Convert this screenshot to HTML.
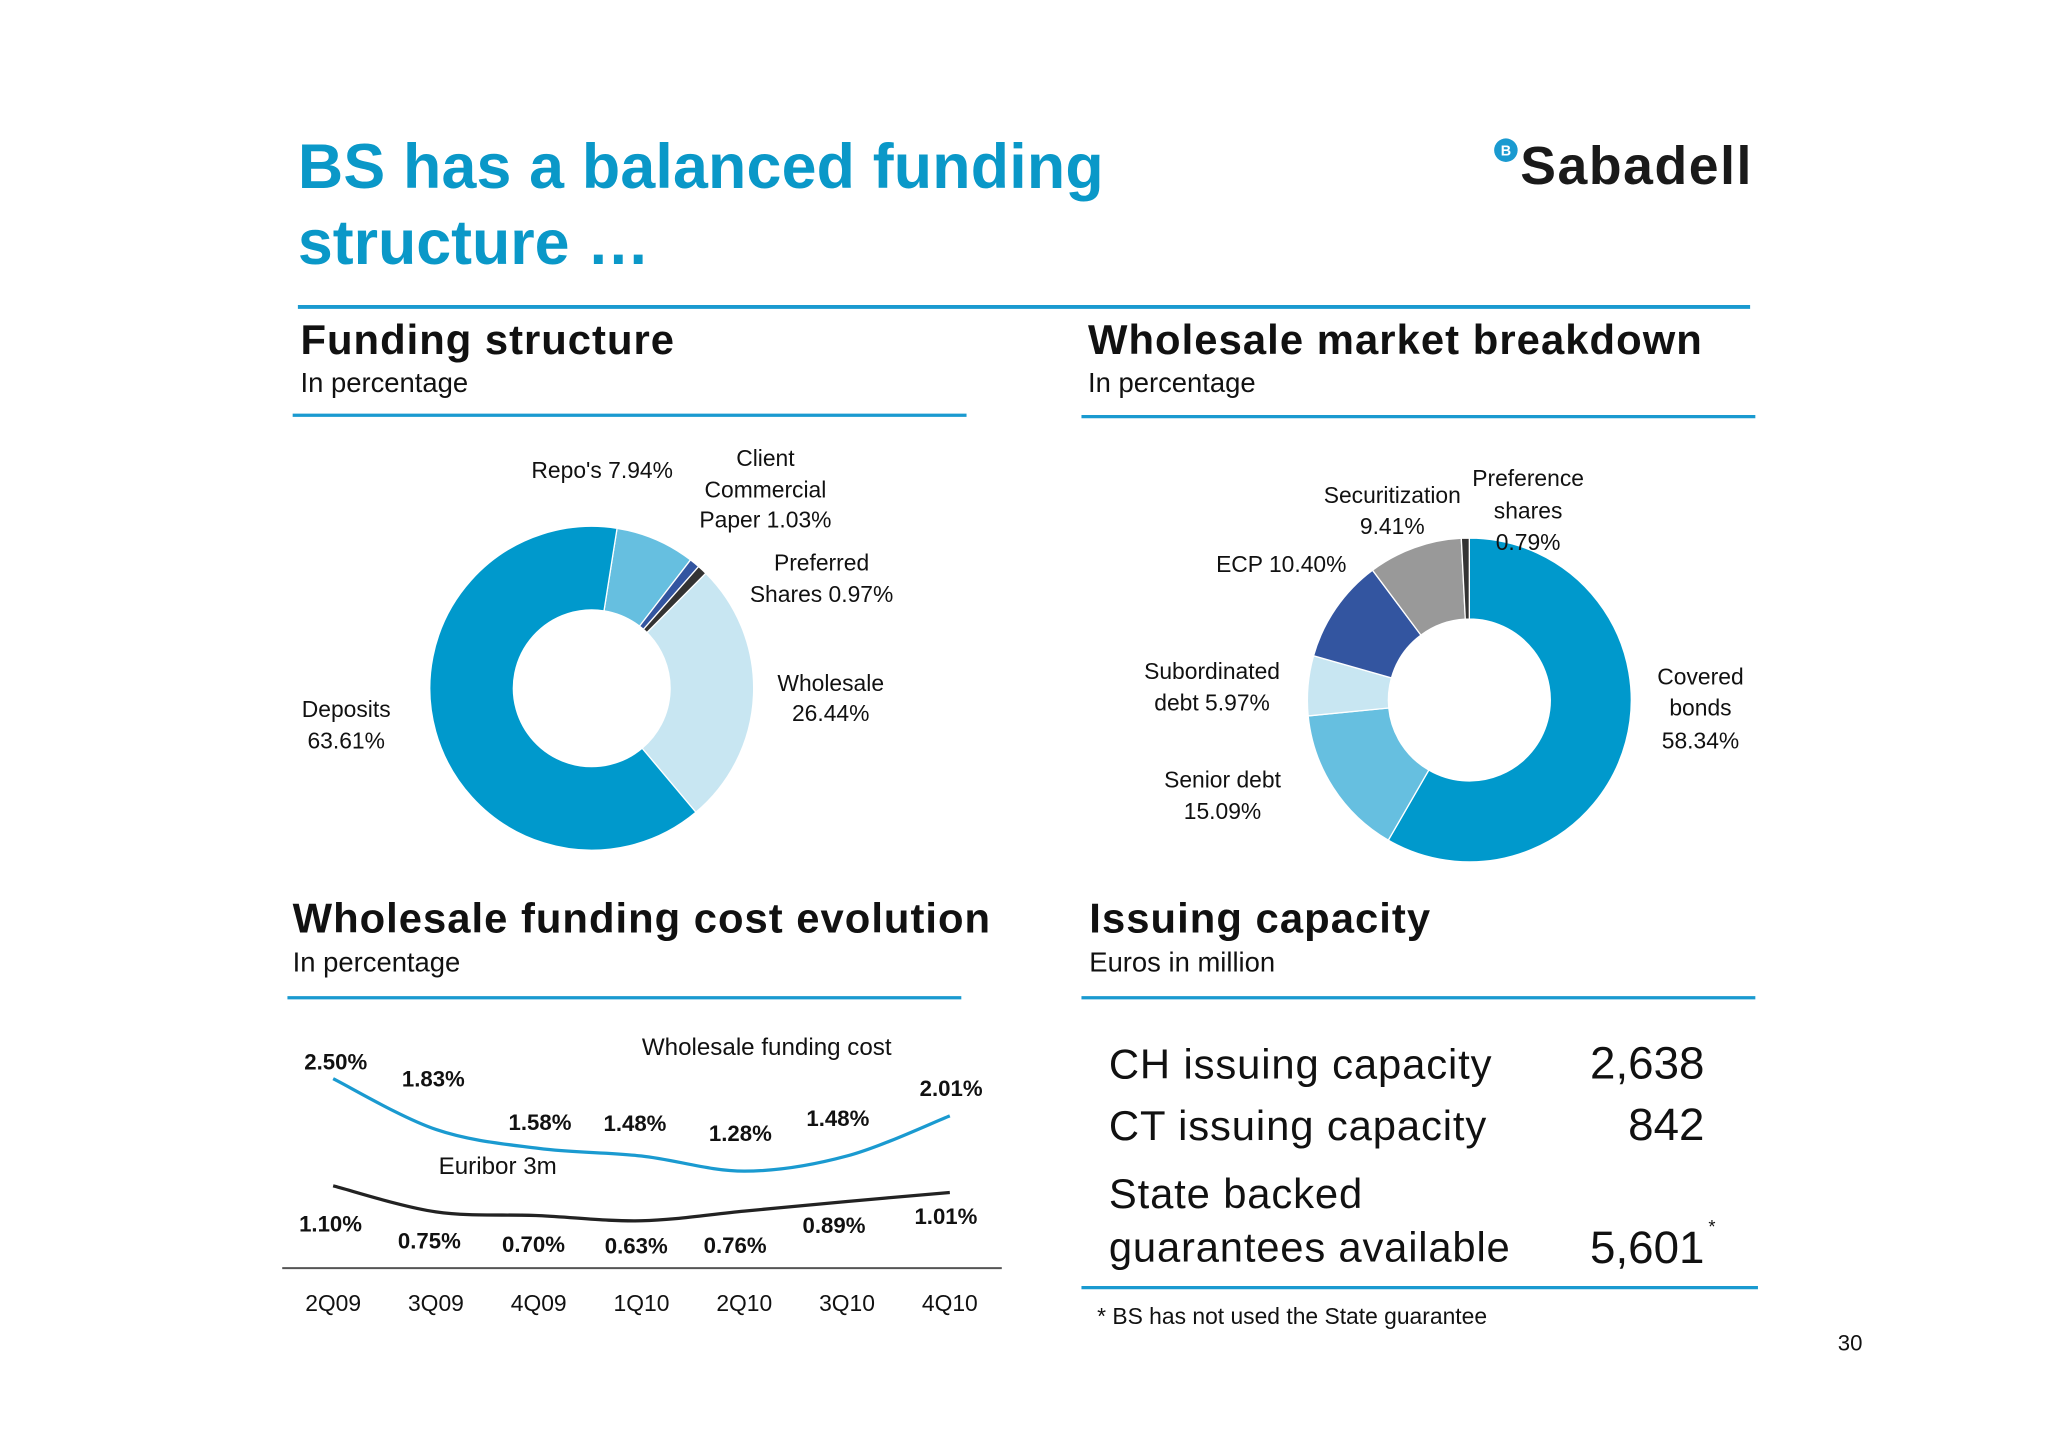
<!DOCTYPE html>
<html><head><meta charset="utf-8"><style>
html,body{margin:0;padding:0;background:#fff;}
svg{display:block;font-family:"Liberation Sans",Arial,sans-serif;}
</style></head><body>
<svg id="s" width="2048" height="1447" viewBox="0 0 1568 1108" xmlns="http://www.w3.org/2000/svg">
<rect width="1568" height="1108" fill="#fff"/>
<text x="228" y="144" font-size="48" font-weight="bold" fill="#0a98c8" textLength="617">BS has a balanced funding</text>
<text x="228" y="202" font-size="48" font-weight="bold" fill="#0a98c8">structure …</text>
<g>
<circle cx="1153" cy="115" r="9" fill="#1a9ad0"/>
<text x="1153" y="119" font-size="11" font-weight="bold" fill="#fff" text-anchor="middle">B</text>
<text x="1164" y="141" font-size="41" font-weight="bold" fill="#1a1a1a" textLength="177">Sabadell</text>
</g>
<line x1="228" y1="235" x2="1340" y2="235" stroke="#1a9ad0" stroke-width="3"/>
<text x="230" y="271" font-size="32" font-weight="bold" fill="#111" textLength="286">Funding structure</text>
<text x="230" y="300" font-size="21" fill="#111">In percentage</text>
<line x1="224" y1="318" x2="740" y2="318" stroke="#1a9ad0" stroke-width="2.5"/>
<text x="833" y="271" font-size="32" font-weight="bold" fill="#111" textLength="470">Wholesale market breakdown</text>
<text x="833" y="300" font-size="21" fill="#111">In percentage</text>
<line x1="828" y1="319" x2="1344" y2="319" stroke="#1a9ad0" stroke-width="2.5"/>
<text x="224" y="714" font-size="32" font-weight="bold" fill="#111" textLength="534">Wholesale funding cost evolution</text>
<text x="224" y="744" font-size="21" fill="#111">In percentage</text>
<line x1="220" y1="764" x2="736" y2="764" stroke="#1a9ad0" stroke-width="2.5"/>
<text x="834" y="714" font-size="32" font-weight="bold" fill="#111" textLength="261">Issuing capacity</text>
<text x="834" y="744" font-size="21" fill="#111">Euros in million</text>
<line x1="828" y1="764" x2="1344" y2="764" stroke="#1a9ad0" stroke-width="2.5"/>
<g id="d1"></g>
<g id="d2"></g>
<g font-size="17.5" fill="#111" text-anchor="middle">
<text x="461" y="366">Repo's 7.94%</text>
<text x="586" y="357">Client</text><text x="586" y="381">Commercial</text><text x="586" y="404">Paper 1.03%</text>
<text x="629" y="437">Preferred</text><text x="629" y="461">Shares 0.97%</text>
<text x="636" y="529">Wholesale</text><text x="636" y="552">26.44%</text>
<text x="265" y="549">Deposits</text><text x="265" y="573">63.61%</text>
<text x="1066" y="385">Securitization</text><text x="1066" y="409">9.41%</text>
<text x="1170" y="372">Preference</text><text x="1170" y="397">shares</text><text x="1170" y="421">0.79%</text>
<text x="981" y="438">ECP 10.40%</text>
<text x="928" y="520">Subordinated</text><text x="928" y="544">debt 5.97%</text>
<text x="936" y="603">Senior debt</text><text x="936" y="627">15.09%</text>
<text x="1302" y="524">Covered</text><text x="1302" y="548">bonds</text><text x="1302" y="573">58.34%</text>
</g>
<g id="lc"></g>
<text x="587" y="808" font-size="18.5" fill="#111" text-anchor="middle">Wholesale funding cost</text>
<text x="381" y="899" font-size="18.5" fill="#111" text-anchor="middle">Euribor 3m</text>
<line x1="216" y1="971" x2="767" y2="971" stroke="#555" stroke-width="1.5"/>
<g font-size="32" fill="#111">
<text x="849" y="826" textLength="293">CH issuing capacity</text><text x="1305" y="826" text-anchor="end" font-size="35">2,638</text>
<text x="849" y="873" textLength="289">CT issuing capacity</text><text x="1305" y="873" text-anchor="end" font-size="35">842</text>
<text x="849" y="925" textLength="194">State backed</text>
<text x="849" y="966" textLength="307">guarantees available</text><text x="1305" y="967" text-anchor="end" font-size="35">5,601</text>
<text x="1308" y="944" font-size="14">*</text>
</g>
<line x1="828" y1="986" x2="1346" y2="986" stroke="#1a9ad0" stroke-width="2.5"/>
<text x="840" y="1014" font-size="17.5" fill="#111">* BS has not used the State guarantee</text>
<text x="1426" y="1034" font-size="17" fill="#111" text-anchor="end">30</text>
</svg>
<script>
const NS="http://www.w3.org/2000/svg";
const fundLabels=["Repo's","Client CP","Preferred","Wholesale","Deposits"];
const fundValues=[7.94,1.03,0.97,26.44,63.61];
const fundColors=["#66bfe0","#3355a0","#333333","#c8e6f2","#0099cc"];
const wmLabels=["Covered bonds","Senior debt","Subordinated","ECP","Securitization","Preference"];
const wmValues=[58.34,15.09,5.97,10.40,9.41,0.79];
const wmColors=["#0099cc","#66bfe0","#c8e6f2","#3355a0","#999999","#333333"];
const quarters=["2Q09","3Q09","4Q09","1Q10","2Q10","3Q10","4Q10"];
const wholesaleCost=[2.50,1.83,1.58,1.48,1.28,1.48,2.01];
const euribor=[1.10,0.75,0.70,0.63,0.76,0.89,1.01];
function donut(g,vals,cols,names,cx,cy,R,r,start){
  const tot=vals.reduce((a,b)=>a+b,0);let a=start;
  vals.forEach((v,i)=>{
    const a2=a+v/tot*360;
    const p=(ang,rad)=>[cx+rad*Math.sin(ang*Math.PI/180),cy-rad*Math.cos(ang*Math.PI/180)];
    const l=(a2-a)>180?1:0;
    const [x1,y1]=p(a,R),[x2,y2]=p(a2,R),[x3,y3]=p(a2,r),[x4,y4]=p(a,r);
    const el=document.createElementNS(NS,"path");
    el.setAttribute("d",`M${x1},${y1}A${R},${R} 0 ${l} 1 ${x2},${y2}L${x3},${y3}A${r},${r} 0 ${l} 0 ${x4},${y4}Z`);
    el.setAttribute("fill",cols[i]);el.setAttribute("stroke","#fff");el.setAttribute("stroke-width","1");
    
    
    g.appendChild(el);a=a2;
  });
}
donut(document.getElementById("d1"),fundValues,fundColors,fundLabels,453,527,124,60,9);
donut(document.getElementById("d2"),wmValues,wmColors,wmLabels,1125,536,124,62,0);
const lc=document.getElementById("lc");
const xs=i=>255+i*78.7;
const yc=v=>826+(2.5-v)*58;
const ye=v=>908+(1.1-v)*57;
function line(vals,yf,col,name){
  const pts=vals.map((v,i)=>[xs(i),yf(v)]);
  let d=`M${pts[0][0]},${pts[0][1]}`;
  for(let i=1;i<pts.length;i++){
    const p0=pts[Math.max(0,i-2)],p1=pts[i-1],p2=pts[i],p3=pts[Math.min(pts.length-1,i+1)];
    const c1=[p1[0]+(p2[0]-p0[0])/6,p1[1]+(p2[1]-p0[1])/6],c2=[p2[0]-(p3[0]-p1[0])/6,p2[1]-(p3[1]-p1[1])/6];
    d+=`C${c1[0]},${c1[1]} ${c2[0]},${c2[1]} ${p2[0]},${p2[1]}`;
  }
  const el=document.createElementNS(NS,"path");
  el.setAttribute("d",d);el.setAttribute("fill","none");el.setAttribute("stroke",col);el.setAttribute("stroke-width","2.5");
  
  
  lc.appendChild(el);
}
line(wholesaleCost,yc,"#1a9ad0","wholesale-cost-line");
line(euribor,ye,"#222","euribor-line");
function txt(x,y,s,opt){
  const t=document.createElementNS(NS,"text");
  t.setAttribute("x",x);t.setAttribute("y",y);t.setAttribute("text-anchor","middle");
  t.setAttribute("font-size",opt.fs);if(opt.b)t.setAttribute("font-weight","bold");t.setAttribute("fill","#111");
  t.textContent=s;
  
  
  lc.appendChild(t);
}
const wOffY=[-7,-33,-14,-19,-23,-23,-15], wOffX=[2,-2,1,-5,-3,-7,1];
wholesaleCost.forEach((v,i)=>{
  txt(xs(i)+wOffX[i],yc(v)+wOffY[i],v.toFixed(2)+"%",{fs:17,b:1,name:"wholesale-value-label"});
});
const eOffY=[35,28,28,25,32,24,24], eOffX=[-2,-5,-4,-4,-7,-10,-3];
euribor.forEach((v,i)=>{
  txt(xs(i)+eOffX[i],ye(v)+eOffY[i],v.toFixed(2)+"%",{fs:17,b:1,name:"euribor-value-label"});
});
quarters.forEach((q,i)=>txt(xs(i),1004,q,{fs:17.5,name:"x-tick-label"}));
</script>
</body></html>
